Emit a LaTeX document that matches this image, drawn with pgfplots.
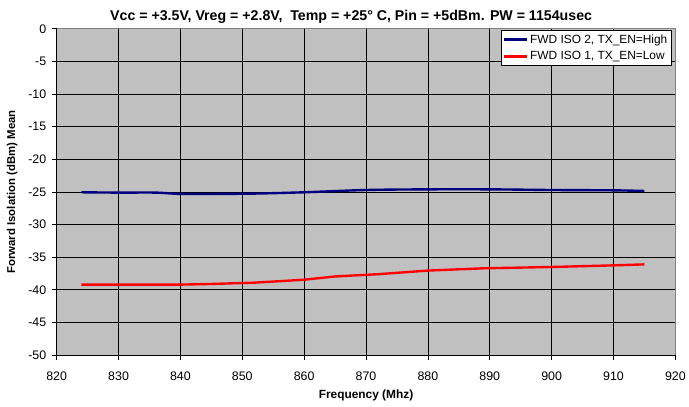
\documentclass[border=0pt]{standalone}
\usepackage{pgfplots}
\pgfplotsset{compat=1.18}
\usepackage{fontspec}
\setmainfont{Liberation Sans}
\definecolor{plotgray}{HTML}{C0C0C0}
\definecolor{bordergray}{HTML}{808080}
\definecolor{isoblue}{HTML}{000080}
\definecolor{isored}{HTML}{FF0000}

\begin{document}
\begin{tikzpicture}
\begin{axis}[
  scale only axis,
  width=622bp, height=328bp,
  clip=false,
  xmin=820, xmax=920, ymin=-50, ymax=0,
  xtick={820,830,...,920}, ytick={-50,-45,...,0},
  axis background/.style={fill=plotgray},
  axis line style={draw=black, line width=0.7pt},
  grid=major,
  major grid style={black, line width=0.7pt},
  tick align=outside,
  tick style={black, line width=0.7pt},
  major tick length=5bp,
  axis x line*=bottom, axis y line*=left,
  ticklabel style={font=\fontsize{12.5}{14}\selectfont},
  /pgf/number format/assume math mode=true,
  xticklabel style={yshift=-8bp},
  yticklabel style={xshift=-2bp},
  xlabel={\textbf{Frequency (Mhz)}},
  ylabel={\textbf{Forward Isolation (dBm) Mean}},
  xlabel style={font=\fontsize{12}{14}\selectfont},
  ylabel style={font=\fontsize{11.5}{14}\selectfont},
  xlabel shift=3bp, ylabel shift=4bp,
  title={\textbf{Vcc = +3.5V, Vreg = +2.8V,\ \ Temp = +25° C, Pin = +5dBm. PW = 1154usec}},
  title style={font=\fontsize{14.3}{16}\selectfont, yshift=-4bp, xshift=-15bp},
  legend style={at={(0.9936,0.995)}, anchor=north east, draw=black, fill=white, line width=0.7pt,
    font=\fontsize{12}{14}\selectfont, cells={anchor=west}, inner sep=1.8bp, row sep=3bp},
  legend cell align=left,
  legend image code/.code={\draw[#1] (0bp,0bp) -- (23bp,0bp);},
]
\draw[bordergray, line width=0.8pt] (rel axis cs:0,1) -- (rel axis cs:1,1) -- (rel axis cs:1,0);
\path (rel axis cs:0,0) ++(-57bp,-52bp);
\path (rel axis cs:1,1) ++(10bp,29bp);
\addplot[isoblue, line width=2.4pt, smooth] coordinates {
 (824,-25.05) (830,-25.1) (836,-25.1) (840,-25.3) (846,-25.3) (852,-25.25)
 (860,-25.05) (870,-24.7) (880,-24.6) (890,-24.6) (900,-24.7) (910,-24.75) (915,-24.85)};
\addlegendentry{FWD ISO 2, TX\_EN=High}
\addplot[isored, line width=2.4pt] coordinates {
 (824,-39.2) (830,-39.2) (836,-39.2) (840,-39.2) (845,-39.1) (852,-38.9)
 (860,-38.45) (865,-37.95) (872,-37.6) (880,-37.05) (889,-36.7) (900,-36.5) (910,-36.25) (915,-36.1)};
\addlegendentry{FWD ISO 1, TX\_EN=Low}
\end{axis}
\end{tikzpicture}
\end{document}
